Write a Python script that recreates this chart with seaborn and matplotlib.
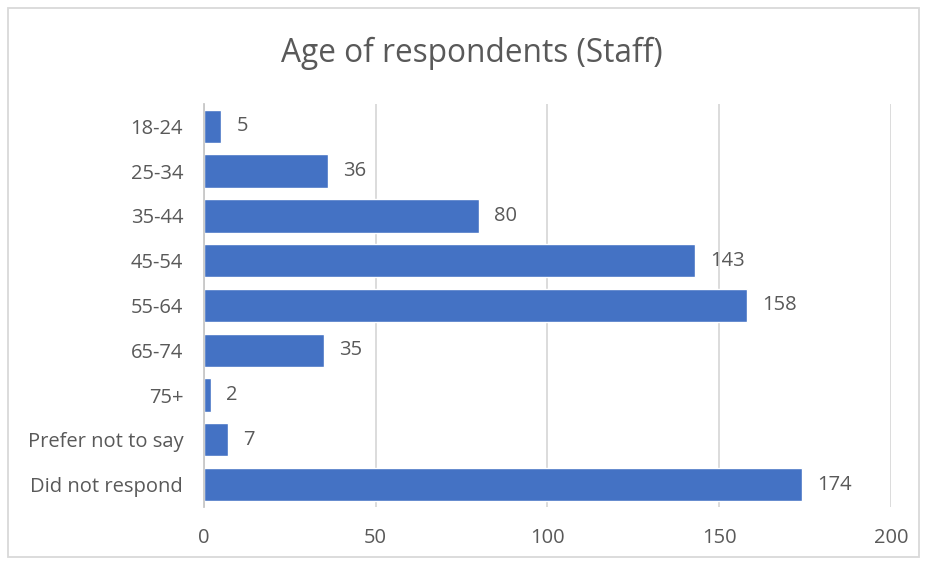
import matplotlib
matplotlib.use("Agg")
import matplotlib.pyplot as plt
from matplotlib.patches import Rectangle
import seaborn as sns
import pandas as pd

categories = ["18-24", "25-34", "35-44", "45-54", "55-64", "65-74", "75+",
              "Prefer not to say", "Did not respond"]
counts = [5, 36, 80, 143, 158, 35, 2, 7, 174]
x_ticks = [0, 50, 100, 150, 200]
title = "Age of respondents (Staff)"

sns.set_theme(style="white")
plt.rcParams['font.family'] = ['Open Sans', 'DejaVu Sans']

TEXT = "#595959"
GRID = "#d9d9d9"
BAR = "#4472C4"

df = pd.DataFrame({"category": categories, "count": counts})

fig = plt.figure(figsize=(9.26, 5.63), dpi=100)
ax = fig.add_axes([0.2203, 0.0995, 0.7419, 0.7158])

sns.barplot(data=df, y="category", x="count", orient="h", color=BAR,
            saturation=1, width=0.745, ax=ax, order=categories)

ax.set_xlim(0, 200)
ax.set_xticks(x_ticks)
ax.set_xlabel("")
ax.set_ylabel("")
ax.xaxis.grid(True, color=GRID, linewidth=1.3)
ax.set_axisbelow(True)
for s in ["top", "right", "bottom"]:
    ax.spines[s].set_visible(False)
ax.spines["left"].set_color("#c8c8c8")
ax.spines["left"].set_linewidth(1.3)
ax.tick_params(axis="both", length=0, colors=TEXT, labelsize=14.5)
ax.tick_params(axis="y", pad=15)
ax.tick_params(axis="x", pad=15)

for cont in ax.containers:
    ax.bar_label(cont, labels=[str(v) for v in counts], padding=11,
                 color=TEXT, fontsize=14.5)

fig.text(0.5097, 0.905, title, ha="center", va="center", fontsize=22.8, color=TEXT)

fig.patches.append(Rectangle((8 / 926, 1 - 557 / 563), 911 / 926, 549 / 563,
                             transform=fig.transFigure, fill=False,
                             edgecolor=GRID, linewidth=1.3))

fig.savefig("out.png", dpi=100)
